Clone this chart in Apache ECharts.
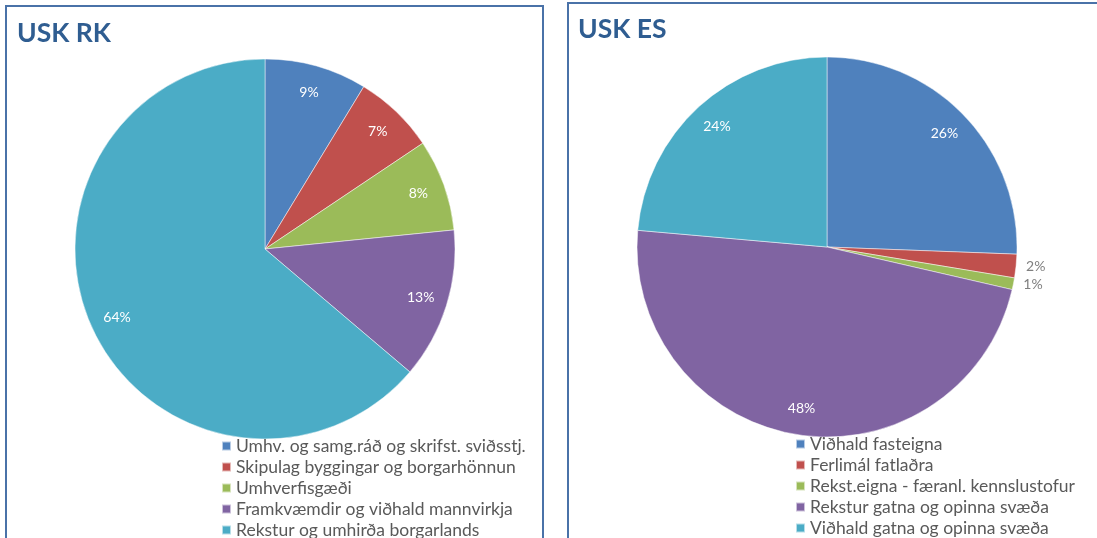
<!DOCTYPE html>
<html>
<head>
<meta charset="utf-8">
<script src="https://cdn.jsdelivr.net/npm/echarts@6/dist/echarts.min.js"></script>
<style>
  html, body { margin: 0; padding: 0; background: #fff; }
  #chart { width: 1097px; height: 538px; }
</style>
</head>
<body>
<div id="chart"></div>
<script>
// data
var rkNames = ['Umhv. og samg.ráð og skrifst. sviðsstj.', 'Skipulag byggingar og borgarhönnun',
               'Umhverfisgæði', 'Framkvæmdir og viðhald mannvirkja', 'Rekstur og umhirða borgarlands'];
var rkValues = [8.7, 6.9, 7.8, 12.8, 63.8];
var esNames = ['Viðhald fasteigna', 'Ferlimál fatlaðra', 'Rekst.eigna - færanl. kennslustofur',
               'Rekstur gatna og opinna svæða', 'Viðhald gatna og opinna svæða'];
var esValues = [25.6, 2.0, 1.0, 47.8, 23.6];
var colors = ['#4F81BD', '#C0504D', '#9BBB59', '#8064A2', '#4BACC6'];

var font = 'Lato, "Open Sans", sans-serif';

function sum(arr){
    var s = 0;
    arr.forEach(function(v){ s += v; });
    return s;
}

function pieData(names, values){
    return names.map(function(n, i){
        return {name: n, value: values[i], itemStyle: {color: colors[i]}};
    });
}

// transparent ring on top, only there to put the % labels out near the rim
function labelData(names, values, outside){
    return names.map(function(n, i){
        var item = {name: n, value: values[i]};
        if (outside.indexOf(i) >= 0){
            item.label = {position: 'outside', color: '#7f7f7f', distance: 4};
            item.labelLine = {show: false, length: 5, length2: 0};
        }
        return item;
    });
}

function pctFormatter(values){
    var total = sum(values);
    return function(p){
        return Math.round(p.value / total * 100) + '%';
    };
}

var chart = echarts.init(document.getElementById('chart'));

var legendText = {color: '#595959', fontSize: 17.5, fontFamily: font, lineHeight: 18};

var option = {
    animation: false,
    title: [
        {text: 'USK RK', left: 12, top: 15,
         textStyle: {color: '#2F5D91', fontSize: 26.5, fontWeight: 'bold', fontFamily: font}},
        {text: 'USK ES', left: 573, top: 11,
         textStyle: {color: '#2F5D91', fontSize: 26.5, fontWeight: 'bold', fontFamily: font}}
    ],
    graphic: [
        {type: 'rect', shape: {x: 6, y: 6, width: 537, height: 560},
         style: {fill: 'none', stroke: '#4A72A8', lineWidth: 2}, silent: true},
        {type: 'rect', shape: {x: 568, y: 3, width: 560, height: 560},
         style: {fill: 'none', stroke: '#4A72A8', lineWidth: 2}, silent: true}
    ],
    legend: [
        {data: rkNames, orient: 'vertical', left: 216, top: 432, height: 140, icon: 'rect',
         itemWidth: 9, itemHeight: 9, itemGap: 3, textStyle: legendText},
        {data: esNames, orient: 'vertical', left: 790, top: 430, height: 140, icon: 'rect',
         itemWidth: 9, itemHeight: 9, itemGap: 3, textStyle: legendText}
    ],
    series: [
        {
            type: 'pie', radius: 190, center: [265, 249], startAngle: 90,
            data: pieData(rkNames, rkValues),
            itemStyle: {borderColor: 'rgba(255,255,255,0.6)', borderWidth: 0.8},
            label: {show: false}, labelLine: {show: false}, emphasis: {disabled: true}
        },
        {
            type: 'pie', radius: 190, center: [827, 247], startAngle: 90,
            data: pieData(esNames, esValues),
            itemStyle: {borderColor: 'rgba(255,255,255,0.6)', borderWidth: 0.8},
            label: {show: false}, labelLine: {show: false}, emphasis: {disabled: true}
        },
        {
            type: 'pie', radius: [130, 190], center: [265, 249], startAngle: 90, silent: true,
            data: labelData(rkNames, rkValues, []),
            itemStyle: {color: 'transparent'},
            label: {position: 'inside', color: '#fff', fontSize: 14, fontFamily: font,
                    formatter: pctFormatter(rkValues)},
            labelLine: {show: false}, emphasis: {disabled: true}
        },
        {
            type: 'pie', radius: [130, 190], center: [827, 247], startAngle: 90, silent: true,
            data: labelData(esNames, esValues, [1, 2]),
            itemStyle: {color: 'transparent'},
            label: {position: 'inside', color: '#fff', fontSize: 14, fontFamily: font,
                    formatter: pctFormatter(esValues)},
            labelLine: {show: false}, emphasis: {disabled: true}
        }
    ]
};

chart.setOption(option);
</script>
</body>
</html>
